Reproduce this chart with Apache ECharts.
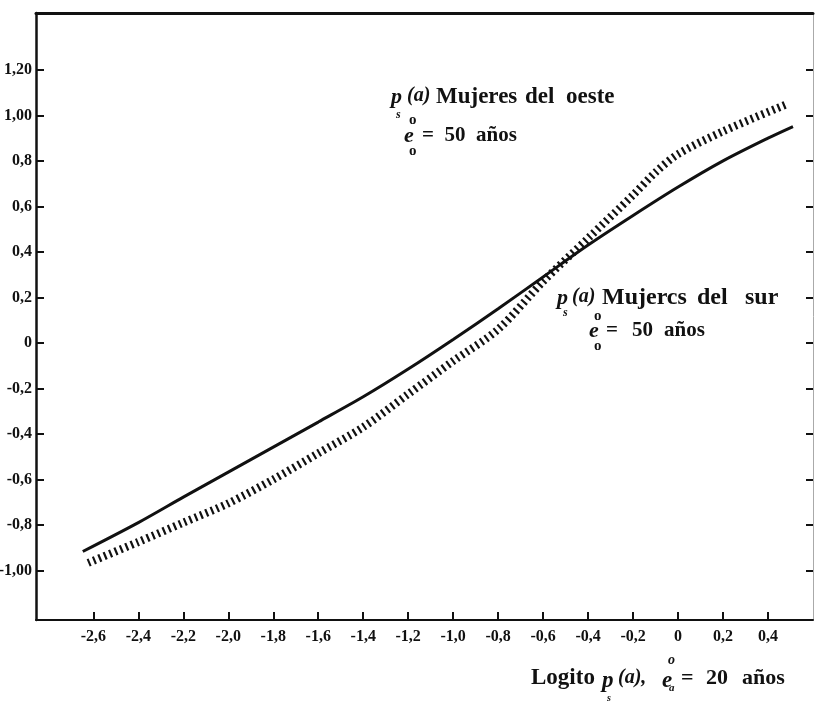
<!DOCTYPE html>
<html><head><meta charset="utf-8">
<script src="https://cdn.jsdelivr.net/npm/echarts@6/dist/echarts.min.js"></script>
<style>html,body{margin:0;padding:0;background:#fff}#c{width:815px;height:704px}</style>
</head><body><div id="c"></div>
<script>
// x tick values and labels
const xTicks = [-2.6,-2.4,-2.2,-2.0,-1.8,-1.6,-1.4,-1.2,-1.0,-0.8,-0.6,-0.4,-0.2,0,0.2,0.4];
const xTickLabels = ['-2,6','-2,4','-2,2','-2,0','-1,8','-1,6','-1,4','-1,2','-1,0','-0,8','-0,6','-0,4','-0,2','0','0,2','0,4'];
const yTicks = [1.2,1.0,0.8,0.6,0.4,0.2,0,-0.2,-0.4,-0.6,-0.8,-1.0];
const yTickLabels = ['1,20','1,00','0,8','0,6','0,4','0,2','0','-0,2','-0,4','-0,6','-0,8','-1,00'];

// Solid curve: p_s(a) Mujeres del sur
const surX = [-2.647,-2.4,-2.2,-2.0,-1.8,-1.6,-1.4,-1.2,-1.0,-0.8,-0.6,-0.4,-0.2,0.0,0.2,0.4,0.511];
const surY = [-0.917,-0.79,-0.678,-0.568,-0.458,-0.348,-0.237,-0.115,0.015,0.15,0.29,0.43,0.56,0.685,0.80,0.90,0.951];
// Hatched curve: p_s(a) Mujeres del oeste
const oesteX = [-2.623,-2.4,-2.2,-2.0,-1.8,-1.6,-1.4,-1.2,-1.0,-0.8,-0.6,-0.4,-0.2,-0.1,0.0,0.2,0.476];
const oesteY = [-0.967,-0.875,-0.79,-0.705,-0.60,-0.485,-0.37,-0.225,-0.08,0.06,0.27,0.46,0.65,0.75,0.83,0.93,1.046];

const pairs = (xs, ys) => xs.map((x, i) => [x, ys[i]]);
const fmt = (vals, labels) => v => { const i = vals.findIndex(t => Math.abs(t - v) < 1e-6); return i >= 0 ? labels[i] : ''; };

const F = '"Liberation Serif", "DejaVu Serif", serif';
const chart = echarts.init(document.getElementById('c'), null, {renderer: 'canvas'});

function txt(text, x, y, size, opts) {
  opts = opts || {};
  return {type: 'text', silent: true, style: {text: text, x: x, y: y,
    font: (opts.italic ? 'italic ' : '') + 'bold ' + size + 'px ' + F,
    fill: '#111', textAlign: opts.align || 'left', textVerticalAlign: 'middle'}};
}

chart.setOption({
  animation: false,
  backgroundColor: '#fff',
  grid: {left: 36, right: 2, top: 13, bottom: 84, containLabel: false, outerBoundsMode: 'none'},
  xAxis: [{
    type: 'value', position: 'bottom', min: -2.855, max: 0.6,
    axisLine: {show: true, onZero: false, lineStyle: {color: '#111', width: 2}},
    axisTick: {show: true, inside: true, length: 8, customValues: xTicks, lineStyle: {color: '#111', width: 2}},
    axisLabel: {show: true, customValues: xTicks, formatter: fmt(xTicks, xTickLabels), margin: 9,
      color: '#111', fontFamily: F, fontWeight: 'bold', fontSize: 16},
    splitLine: {show: false}
  }, {
    type: 'value', position: 'top', min: -2.855, max: 0.6,
    axisLine: {show: true, onZero: false, lineStyle: {color: '#111', width: 3}},
    axisTick: {show: false}, axisLabel: {show: false}, splitLine: {show: false}
  }],
  yAxis: [{
    type: 'value', position: 'left', min: -1.218, max: 1.45,
    axisLine: {show: true, onZero: false, lineStyle: {color: '#111', width: 2.5}},
    axisTick: {show: true, inside: true, length: 8, customValues: yTicks, lineStyle: {color: '#111', width: 2}},
    axisLabel: {show: true, customValues: yTicks, formatter: fmt(yTicks, yTickLabels), margin: 4,
      color: '#111', fontFamily: F, fontWeight: 'bold', fontSize: 16},
    splitLine: {show: false}
  }, {
    type: 'value', position: 'right', min: -1.218, max: 1.45,
    axisLine: {show: true, onZero: false, lineStyle: {color: '#aaa', width: 1}},
    axisTick: {show: true, inside: true, length: 7, customValues: yTicks, lineStyle: {color: '#111', width: 2}},
    axisLabel: {show: false}, splitLine: {show: false}
  }],
  series: [{
    name: 'Mujeres del sur', type: 'line', smooth: 0.3, symbol: 'none',
    data: pairs(surX, surY),
    lineStyle: {color: '#111', width: 3}
  }, {
    name: 'Mujeres del oeste', type: 'line', smooth: 0.3, symbol: 'none',
    data: pairs(oesteX, oesteY),
    lineStyle: {color: '#111', width: 8, type: [2.2, 3.6], cap: 'butt'}
  }],
  graphic: [
    txt('p', 391, 97, 22, {italic: true}),
    txt('s', 396, 115, 12, {italic: true}),
    txt('(a)', 407, 96, 20, {italic: true}),
    txt('Mujeres', 436, 97, 23),
    txt('del', 525, 97, 23),
    txt('oeste', 566, 97, 23),
    txt('o', 409, 120, 15),
    txt('e', 404, 136, 22, {italic: true}),
    txt('o', 409, 151, 15),
    txt('=  50  años', 422, 136, 21),

    txt('p', 557, 298, 22, {italic: true}),
    txt('s', 563, 313, 12, {italic: true}),
    txt('(a)', 572, 297, 20, {italic: true}),
    txt('Mujercs', 602, 298, 24),
    txt('del', 697, 298, 24),
    txt('sur', 745, 298, 24),
    txt('o', 594, 316, 15),
    txt('e', 589, 331, 22, {italic: true}),
    txt('o', 594, 346, 15),
    txt('=', 606, 331, 21),
    txt('50', 632, 331, 21),
    txt('años', 664, 331, 21),

    txt('Logito', 531, 678, 23),
    txt('p', 602, 681, 23, {italic: true}),
    txt('s', 607, 698, 10, {italic: true}),
    txt('(a),', 618, 678, 20, {italic: true}),
    txt('e', 662, 681, 23, {italic: true}),
    txt('o', 668, 660, 14, {italic: true}),
    txt('a', 669, 688, 11, {italic: true}),
    txt('=', 681, 678, 22),
    txt('20', 706, 678, 22),
    txt('años', 742, 678, 22)
  ]
});
</script>
</body></html>
